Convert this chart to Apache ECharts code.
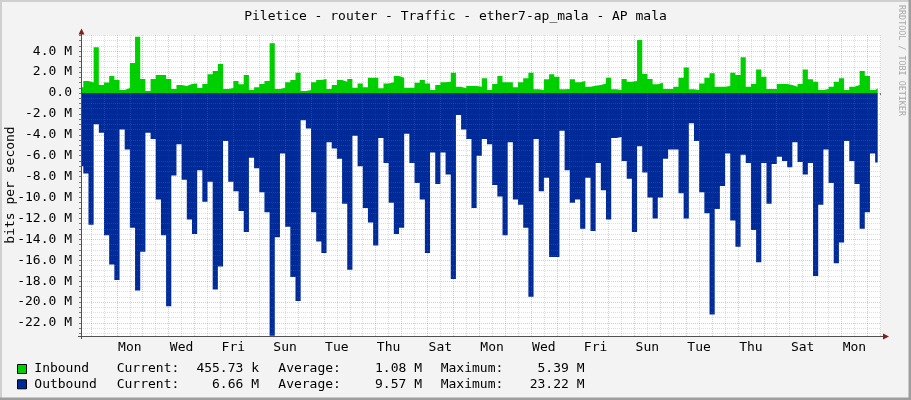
<!DOCTYPE html>
<html><head><meta charset="utf-8">
<script src="https://cdn.jsdelivr.net/npm/echarts@6/dist/echarts.min.js"></script>
<style>html,body{margin:0;padding:0;background:#F3F3F3}#c{width:911px;height:400px}</style>
</head><body><div id="c"></div>
<script>
// ---- text ----
const TITLE = 'Piletice - router - Traffic - ether7-ap_mala - AP mala';
const Y_TITLE = 'bits per second';
const WATERMARK = 'RRDTOOL / TOBI OETIKER';

// ---- time base (hours from left edge of graph) ----
const FIRST_SAMPLE_H = 2.13;   // start of first full sample
const STEP_H = 4.8;            // sample length (5 per day)
const DATA_END_H = 738.9;      // end of last sample
const FIRST_MIDNIGHT_H = 9.27; // first midnight (Sunday 00:00)
const X_MAX_H = 741.5;

// x tick labels, one per two days, starting with day 1 after first midnight
const xTickLabels = ['Mon','Wed','Fri','Sun','Tue','Thu','Sat','Mon','Wed','Fri','Sun','Tue','Thu','Sat','Mon'];
// y tick labels (M bits/s)
const yTickValues = [-22,-20,-18,-16,-14,-12,-10,-8,-6,-4,-2,0,2,4];

// ---- series values (M bits/s); first entry is the partial sample at the left edge ----
const inbound = [0.54,
 1.15,1.0,4.37,0.77,1.0,1.63,1.24,0.29,0.48,2.87,
 5.39,1.34,0.19,1.34,1.72,1.72,1.34,0.38,0.77,0.67,
 0.86,0.92,0.48,0.86,1.79,2.1,2.77,0.38,0.48,1.15,
 0.83,1.72,0.29,0.54,0.86,1.15,4.75,0.38,0.51,1.02,
 1.24,1.94,0.19,0.29,1.02,1.24,1.34,0.38,0.77,1.24,
 1.08,1.34,0.51,0.92,0.54,1.47,1.47,0.45,0.92,1.02,
 1.63,1.47,0.51,0.51,0.99,1.24,0.92,0.29,0.77,1.02,
 1.08,1.94,0.61,0.45,0.67,0.67,0.61,1.4,0.29,0.86,
 1.63,1.02,1.02,0.54,1.02,1.4,1.94,0.35,0.29,1.31,
 1.79,1.56,0.35,0.38,1.31,1.02,1.15,0.61,0.7,0.77,
 0.92,1.47,0.35,0.29,1.34,1.08,1.15,5.07,1.82,1.34,
 0.83,0.99,0.38,0.38,0.61,1.47,2.45,0.35,0.29,0.92,
 1.47,1.88,0.61,0.61,0.67,1.94,1.72,3.41,0.61,0.86,
 2.26,1.56,0.38,0.38,0.86,0.86,0.77,0.61,0.86,2.26,
 1.31,1.08,0.29,0.38,0.61,1.08,1.4,0.29,0.61,0.77,
 2.1,1.63,0.29,0.456];
const outbound = [-7.0,
 -7.7,-12.6,-3.0,-3.8,-13.6,-16.4,-17.9,-3.5,-5.4,-12.9,
 -18.9,-15.2,-3.8,-4.4,-10.2,-13.6,-20.4,-7.9,-4.9,-8.3,
 -12.1,-13.5,-7.4,-10.4,-8.5,-18.8,-16.6,-4.6,-8.5,-9.4,
 -11.3,-13.3,-6.2,-7.2,-9.5,-11.4,-23.22,-13.8,-5.8,-12.8,
 -17.6,-19.9,-2.6,-3.4,-11.4,-14.2,-15.3,-4.7,-5.3,-6.3,
 -10.6,-16.9,-4.1,-7.0,-11.0,-12.4,-14.6,-4.3,-6.7,-10.5,
 -13.5,-12.9,-3.9,-6.7,-8.6,-10.2,-15.3,-5.7,-8.7,-5.7,
 -7.8,-17.8,-2.1,-3.5,-4.4,-11.0,-6.0,-4.4,-4.9,-8.8,
 -9.9,-13.6,-4.7,-10.2,-10.7,-12.9,-19.5,-4.4,-9.4,-8.1,
 -15.7,-15.7,-3.6,-7.4,-10.5,-10.2,-13.0,-8.1,-13.2,-6.7,
 -9.3,-12.1,-4.3,-4.2,-6.5,-8.2,-13.3,-5.1,-7.6,-10.0,
 -12.0,-10.0,-6.3,-5.4,-5.4,-9.6,-12.0,-2.9,-4.6,-9.5,
 -11.5,-21.2,-11.1,-8.9,-5.8,-12.2,-14.7,-5.9,-6.7,-13.1,
 -16.2,-6.7,-10.6,-6.8,-6.1,-6.5,-7.1,-4.7,-6.6,-7.8,
 -6.7,-17.5,-10.7,-5.4,-8.6,-16.3,-14.3,-4.6,-6.5,-8.7,
 -13.0,-11.4,-5.8,-6.66];

// ---- legend text ----
const legendNames = ['Inbound','Outbound'];
const legendCurrent = ['455.73 k','6.66 M'];
const legendAverage = ['1.08 M','9.57 M'];
const legendMaximum = ['5.39 M','23.22 M'];

const Y_MIN = -23.25, Y_MAX = 5.55;
const COL_IN = '#00CF00', COL_OUT = '#002A97';
const FONT = 'DejaVu Sans Mono';

function sampleTime(i){ return i === 0 ? 0 : FIRST_SAMPLE_H + (i-1)*STEP_H; }
function toSeries(vals){
  const d = vals.map((v,i)=>[sampleTime(i), v]);
  d.push([DATA_END_H, vals[vals.length-1]]);
  return d;
}

// grid positions
const midnights = [], noons = [];
for (let t = FIRST_MIDNIGHT_H; t <= X_MAX_H; t += 24) midnights.push(t);
for (let t = FIRST_MIDNIGHT_H + 12; t <= X_MAX_H + 0.01; t += 24) noons.push(t);
const labelPos = xTickLabels.map((_,i)=>FIRST_MIDNIGHT_H + 24*(1+2*i) + 12);
const xTicks = midnights.concat(noons).sort((a,b)=>a-b);
const yMinor = [], yMajor = [];
for (let v = -23; v <= 5.5; v += 0.5) { if (v % 2 === 0) yMajor.push(v); else yMinor.push(v); }

const MINOR = 'rgba(128,128,128,0.27)', MAJOR = 'rgba(255,0,0,0.27)';
const gridLines = [];
noons.forEach(t=>gridLines.push({xAxis:t, lineStyle:{color:MINOR,type:[1,1],width:1}}));
midnights.forEach(t=>gridLines.push({xAxis:t, lineStyle:{color:MAJOR,type:[1,1],width:1}}));
yMinor.forEach(v=>gridLines.push({yAxis:v, lineStyle:{color:MINOR,type:[1,1],width:1}}));
yMajor.forEach(v=>gridLines.push({yAxis:v, lineStyle:{color:MAJOR,type:[1,1],width:1}}));

const chart = echarts.init(document.getElementById('c'), null, {renderer:'canvas'});

const legendGraphics = [];
legendNames.forEach((n,r)=>{
  const cy = 369 + r*15.3;
  const col = r === 0 ? COL_IN : COL_OUT;
  legendGraphics.push({type:'rect', shape:{x:17.5,y:cy-4.5,width:9,height:9}, style:{fill:col, stroke:'#000', lineWidth:1}, z:20});
  const t = (text,x,align)=>({type:'text', x:x, y:cy, style:{text:text, fill:'#000', font:'13px "'+FONT+'"', textAlign:align, textVerticalAlign:'middle'}, z:20});
  legendGraphics.push(t(n,34.3,'left'));
  legendGraphics.push(t('Current:',116.7,'left'));
  legendGraphics.push(t(legendCurrent[r],259,'right'));
  legendGraphics.push(t('Average:',278.3,'left'));
  legendGraphics.push(t(legendAverage[r],422,'right'));
  legendGraphics.push(t('Maximum:',440.7,'left'));
  legendGraphics.push(t(legendMaximum[r],584.5,'right'));
});

const option = {
  backgroundColor:'#F3F3F3',
  animation:false,
  title:{text:TITLE, left:'center', top:5, textStyle:{fontFamily:FONT, fontSize:13, fontWeight:'normal', color:'#000'}},
  grid:{left:81, right:30.5, top:35, bottom:64, show:true, backgroundColor:'#FFFFFF', borderWidth:0},
  xAxis:{type:'value', min:0, max:X_MAX_H,
    axisLine:{show:false}, splitLine:{show:false},
    axisTick:{show:true, customValues:xTicks, length:2, lineStyle:{color:'#777'}},
    axisLabel:{customValues:labelPos, margin:5, color:'#000', fontFamily:FONT, fontSize:13,
      formatter:(v)=>{const i=Math.round((v-FIRST_MIDNIGHT_H-36)/48); return xTickLabels[i]||'';}}
  },
  yAxis:{type:'value', min:Y_MIN, max:Y_MAX,
    axisLine:{show:false}, splitLine:{show:false},
    axisTick:{show:true, customValues:yMinor.concat(yMajor), length:2, lineStyle:{color:'#777'}},
    axisLabel:{customValues:yTickValues, margin:9, color:'#000', fontFamily:FONT, fontSize:13,
      formatter:(v)=> v===0 ? '0.0' : v.toFixed(1)+' M'}
  },
  series:[
    {name:'Inbound', type:'line', step:'end', data:toSeries(inbound), showSymbol:false, symbol:'none',
      lineStyle:{width:0}, areaStyle:{color:COL_IN, opacity:1}, z:2},
    {name:'Outbound', type:'line', step:'end', data:toSeries(outbound), showSymbol:false, symbol:'none',
      lineStyle:{width:0}, areaStyle:{color:COL_OUT, opacity:1}, z:2},
    {name:'grid', type:'line', data:[], z:4, silent:true,
      markLine:{silent:true, symbol:['none','none'], animation:false, label:{show:false}, data:gridLines}}
  ],
  graphic:[
    {type:'rect', shape:{x:0,y:0,width:911,height:2}, style:{fill:'#CFCFCF'}, z:30},
    {type:'rect', shape:{x:0,y:0,width:2,height:400}, style:{fill:'#CFCFCF'}, z:30},
    {type:'rect', shape:{x:0,y:397.5,width:911,height:2.5}, style:{fill:'#9E9E9E'}, z:30},
    {type:'rect', shape:{x:908.5,y:0,width:2.5,height:400}, style:{fill:'#9E9E9E'}, z:30},
    // axes
    {type:'line', shape:{x1:78,y1:336.5,x2:884,y2:336.5}, style:{stroke:'#505050', lineWidth:1}, z:10},
    {type:'line', shape:{x1:81.5,y1:339,x2:81.5,y2:32}, style:{stroke:'#505050', lineWidth:1}, z:10},
    {type:'polygon', shape:{points:[[883,333.5],[889,336.5],[883,339.5]]}, style:{fill:'#7F1F1F'}, z:11},
    {type:'polygon', shape:{points:[[78.5,34.5],[81.5,28.5],[84.5,34.5]]}, style:{fill:'#7F1F1F'}, z:11},
    // y title
    {type:'text', x:10.5, y:185, rotation:Math.PI/2, style:{text:Y_TITLE, fill:'#000', font:'13px "'+FONT+'"', textAlign:'center', textVerticalAlign:'middle'}, z:20},
    // watermark
    {type:'text', x:901.5, y:5, rotation:-Math.PI/2, style:{text:WATERMARK, fill:'#A8A8A8', font:'8.4px "'+FONT+'"', textAlign:'left', textVerticalAlign:'middle'}, z:20}
  ].concat(legendGraphics)
};
chart.setOption(option);
</script></body></html>
